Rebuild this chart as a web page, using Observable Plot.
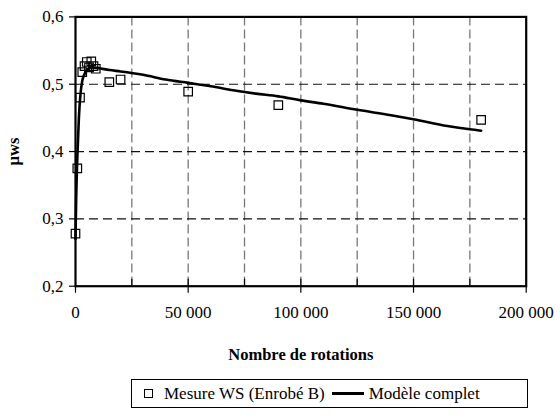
<!DOCTYPE html>
<html>
<head>
<meta charset="utf-8">
<script src="https://cdn.jsdelivr.net/npm/d3@7"></script>
<script src="https://cdn.jsdelivr.net/npm/@observablehq/plot@0.6"></script>
<style>
  body { margin: 0; background: #fff; }
  #wrap { position: relative; width: 560px; height: 420px; font-family: 'Liberation Serif', 'DejaVu Serif', 'Noto Serif', 'Nimbus Roman', 'Nimbus Roman No9 L', FreeSerif, Times, Tinos, Georgia, serif; }
  #legend { position: absolute; left: 131px; top: 379px; width: 395px; height: 27px; border: 1px solid #000;
            display: flex; align-items: center; font-size: 17px; color: #000; box-sizing: content-box; white-space: nowrap; }
  #legend .sq { width: 7px; height: 7px; border: 1px solid #000; margin-left: 12px; margin-right: 11px; }
  #legend .ln { width: 32px; height: 2.5px; background: #000; margin-left: 7px; margin-right: 5px; }
  svg text { font-family: 'Liberation Serif', 'DejaVu Serif', 'Noto Serif', 'Nimbus Roman', 'Nimbus Roman No9 L', FreeSerif, Times, Tinos, Georgia, serif; }
</style>
</head>
<body>
<div id="wrap"><div id="chart"></div>
<div id="legend"><span class="sq"></span><span>Mesure WS (Enrobé B)</span><span class="ln"></span><span>Modèle complet</span></div>
</div>
<script>
// Measured points: number of rotations, friction coefficient µws
const measN  = [0, 800, 2000, 3000, 4000, 5000, 6000, 7000, 8000, 9000, 15000, 20000, 50000, 90000, 180000];
const measMu = [0.278, 0.375, 0.48, 0.518, 0.527, 0.533, 0.525, 0.534, 0.527, 0.523, 0.503, 0.507, 0.489, 0.469, 0.447];

// Complete model curve
const modelN  = [0, 300, 800, 1500, 2200, 3000, 4000, 5000, 7000, 10000, 15000, 20000, 30000, 40000, 50000, 60000, 70000, 80000, 90000, 100000, 110000, 125000, 140000, 150000, 165000, 175000, 180000];
const modelMu = [0.27, 0.33, 0.39, 0.45, 0.485, 0.505, 0.515, 0.521, 0.525, 0.524, 0.521, 0.519, 0.514, 0.507, 0.502, 0.497, 0.491, 0.486, 0.482, 0.476, 0.471, 0.462, 0.454, 0.448, 0.438, 0.433, 0.431];

const xMajor = [0, 50000, 100000, 150000, 200000];
const xMinor = [25000, 50000, 75000, 100000, 125000, 150000, 175000];
const xGrid  = [25000, 50000, 75000, 100000, 125000, 150000, 175000];
const yTicks = [0.2, 0.3, 0.4, 0.5, 0.6];
const yGrid  = [0.3, 0.4, 0.5];

const meas  = measN.map((n, i) => ({n, mu: measMu[i]}));
const model = modelN.map((n, i) => ({n, mu: modelMu[i]}));

const fmtX = d => d3.format(",")(d).replace(/,/g, " ");
const fmtY = d => d3.format(".1f")(d).replace(".", ",");

const chart = Plot.plot({
  width: 560,
  height: 372,
  marginLeft: 75,
  marginRight: 34.3,
  marginTop: 16.4,
  marginBottom: 86.3,
  style: {fontSize: "17px", color: "#000", background: "#fff", overflow: "visible"},
  x: {domain: [0, 200000]},
  y: {domain: [0.2, 0.6]},
  marks: [
    Plot.gridX(xGrid, {stroke: "#777", strokeOpacity: 1, strokeDasharray: "9,4", strokeWidth: 1.3}),
    Plot.gridY(yGrid, {stroke: "#111", strokeOpacity: 1, strokeDasharray: "9,5", strokeWidth: 1.2}),
    Plot.axisX(xMinor, {tickSize: -7, tickFormat: () => "", label: null, strokeWidth: 1.2}),
    Plot.axisX(xMajor, {tickSize: 7, tickPadding: 13, tickFormat: fmtX, strokeWidth: 1.2,
      label: "Nombre de rotations", labelAnchor: "center", labelArrow: "none", labelOffset: 74}),
    Plot.axisY(yTicks, {tickSize: 6, tickPadding: 6, tickFormat: fmtY, strokeWidth: 1.2,
      label: "µws", labelAnchor: "center", labelArrow: "none", labelOffset: 68}),
    Plot.frame({stroke: "#000", strokeWidth: 2.2}),
    Plot.line(model, {x: "n", y: "mu", stroke: "#000", strokeWidth: 2.6, curve: "monotone-x"}),
    Plot.dot(meas, {x: "n", y: "mu", symbol: "square", r: 4.8, stroke: "#000", strokeWidth: 1.2, fill: "none"})
  ]
});
// axis titles are bold in the reference
chart.querySelectorAll("text").forEach(t => {
  const s = t.textContent;
  if (s === "Nombre de rotations" || s === "µws") { t.style.fontWeight = "bold"; t.style.fontSize = "16.5px"; }
});
document.getElementById("chart").appendChild(chart);
</script>
</body>
</html>
